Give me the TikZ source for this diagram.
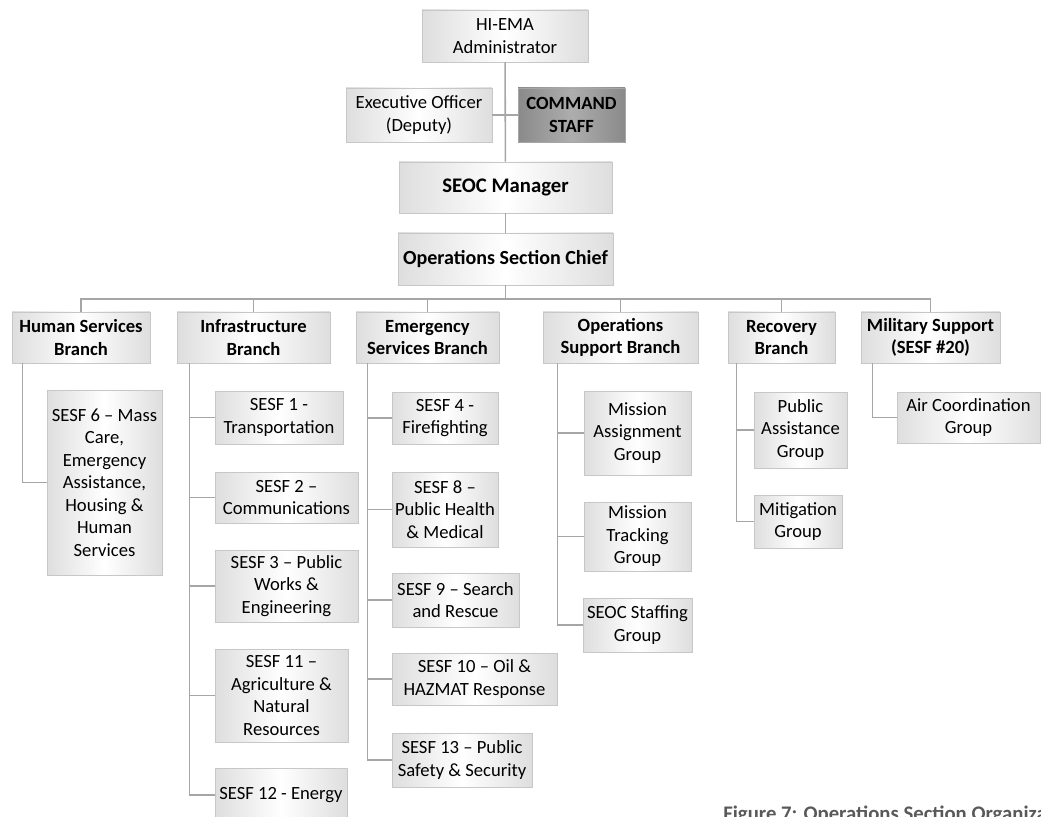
\documentclass[tikz,border=0pt]{standalone}
\usepackage{fontspec}
\setmainfont{Carlito}
\usetikzlibrary{calc}
\begin{document}
\begin{tikzpicture}[x=0.02cm,y=-0.02cm]
    \tikzset{
        box/.style={draw=black!22, left color=black!13, right color=black!13, middle color=white,
            inner sep=1pt, align=center, font=\fontsize{10.6}{12.8}\selectfont},
        bbox/.style={box, font=\fontsize{10.6}{12.8}\selectfont\bfseries},
        wh/.style 2 args={minimum width=#1*0.02cm, minimum height=#2*0.02cm},
        link/.style={draw=black!35, line width=0.9pt},}
    \path[use as bounding box, clip] (0,0) rectangle (1041,817);
    % command level
    \node[box, wh={166}{52}] (admin) at (505,36) {HI-EMA\\Administrator};
    \node[box, wh={146}{54}] (exec) at (419,115) {Executive Officer\\(Deputy)};
    \node[bbox, wh={107}{54}, draw=black!35, left color=black!46, right color=black!46, middle color=black!32] (cmd) at (571.5,115) {COMMAND\\STAFF};
    \node[bbox, wh={213}{51}, font=\fontsize{11.8}{14}\selectfont\bfseries] (seoc) at (505.5,187.5) {SEOC Manager};
    \node[bbox, wh={215}{52}, font=\fontsize{11.4}{14}\selectfont\bfseries] (osc) at (505.5,259) {Operations Section Chief};
    \draw[link] (admin) -- (seoc);
    \draw[link] (exec) -- (cmd);
    \draw[link] (seoc) -- (osc);
    % branches
    \node[bbox, wh={138}{51}] (hs) at (81,337.5) {Human Services\\Branch};
    \node[bbox, wh={153}{51}] (inf) at (253.5,337.5) {Infrastructure\\Branch};
    \node[bbox, wh={143}{51}] (emg) at (427.5,337.5) {Emergency\\Services Branch};
    \node[bbox, wh={155}{51}] (ops) at (620.5,337.5) {Operations\\Support Branch};
    \node[bbox, wh={107}{51}] (rec) at (781.5,337.5) {Recovery\\Branch};
    \node[bbox, wh={139}{51}] (mil) at (930.5,337.5) {Military Support\\(SESF \#20)};
    \coordinate (bus) at (505.5,299);
    \draw[link] (osc) -- (bus);
    \foreach \b in {hs,inf,emg,ops,rec,mil}
        \draw[link] (\b.north) |- (bus);
    % groups
    \node[box, wh={115}{185}] (s6) at (104.5,482.5) {SESF 6 – Mass\\Care,\\Emergency\\Assistance,\\Housing \&\\Human\\Services};
    \node[box, wh={128}{53}] (s1) at (279,417.5) {SESF 1 -\\Transportation};
    \node[box, wh={143}{51}] (s2) at (286.5,497.5) {SESF 2 –\\Communications};
    \node[box, wh={143}{72}] (s3) at (286.5,586) {SESF 3 – Public\\Works \&\\Engineering};
    \node[box, wh={133}{93}] (s11) at (281.5,695.5) {SESF 11 –\\Agriculture \&\\Natural\\Resources};
    \node[box, wh={132}{54}] (s12) at (281,795) {SESF 12 - Energy};
    \node[box, wh={106}{52}] (s4) at (445,418) {SESF 4 -\\Firefighting};
    \node[box, wh={106}{75}] (s8) at (445,509.5) {SESF 8 –\\Public Health\\\& Medical};
    \node[box, wh={127}{54}] (s9) at (455.5,600) {SESF 9 – Search\\and Rescue};
    \node[box, wh={165}{52}] (s10) at (474.5,679) {SESF 10 – Oil \&\\HAZMAT Response};
    \node[box, wh={140}{54}] (s13) at (462,760) {SESF 13 – Public\\Safety \& Security};
    \node[box, wh={107}{84}] (mag) at (637.5,433) {Mission\\Assignment\\Group};
    \node[box, wh={107}{69}] (mtg) at (637.5,536.5) {Mission\\Tracking\\Group};
    \node[box, wh={109}{54}] (ssg) at (637.5,625) {SEOC Staffing\\Group};
    \node[box, wh={93}{76}] (pag) at (800.5,430) {Public\\Assistance\\Group};
    \node[box, wh={88}{53}] (mit) at (798,521.5) {Mitigation\\Group};
    \node[box, wh={143}{51}] (acg) at (968.5,417.5) {Air Coordination\\Group};
    \foreach \p/\d/\c in {hs/11/s6, inf/13/s1, inf/13/s2, inf/13/s3, inf/13/s11, inf/13/s12,
            emg/12/s4, emg/12/s8, emg/12/s9, emg/12/s10, emg/12/s13,
            ops/15/mag, ops/15/mtg, ops/15/ssg, rec/9/pag, rec/9/mit, mil/12/acg}
        \draw[link] ($(\p.south west)+(\d,0)$) |- (\c.west);
    \node[anchor=base west, inner sep=0pt, text=black!65, font=\fontsize{11.8}{13}\selectfont\bfseries] (cap) at (723,820) {Figure 7: Operations Section Organization};
\end{tikzpicture}
\end{document}
